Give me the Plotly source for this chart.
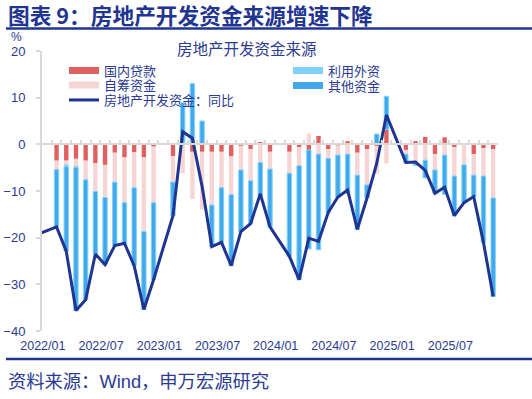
import plotly.graph_objects as go

# ---------------- data ----------------
# month labels: 2021/12 .. 2025/11 (January figures are not published separately)
months = ["2021/12"] + [f"{y}/{m:02d}" for y in range(2022, 2026) for m in range(1, 13)][:47]

# 房地产开发资金：同比 (%)
total_yoy = [-19.3,
             None, -17.7, -22.9, -35.6, -33.3, -23.5, -25.8, -21.7, -21.2, -26.0, -35.4, -29.0,
             None, -15.3, 2.7, 1.3, -9.0, -21.9, -21.0, -26.0, -18.7, -17.0, -10.6, -17.7,
             None, -24.0, -29.0, -20.1, -20.8, -14.6, -11.3, -9.8, -18.2, -11.5, -4.1, 6.3,
             None, -3.9, -3.8, -5.6, -10.5, -9.2, -15.3, -12.5, -11.2, -21.0, -32.6]

# contributions (pct points)
domestic_loans = [None,
                  None, -3.5, -3.5, -3.1, -3.5, -4.0, -4.4, -1.8, -2.8, -1.7, -2.8, -0.5,
                  None, -2.5, 0.3, -1.6, -1.6, -1.6, -1.6, -2.6, -0.3, -1.0, 0.5, -1.6,
                  None, -1.6, -0.6, -1.2, 1.8, -1.0, -0.2, 0.7, -1.8, -1.0, -0.3, 3.2,
                  None, -1.2, 0.7, 1.6, -2.1, 1.5, -0.6, -0.1, -2.1, -0.8, -1.0]

foreign_capital = [None,
                   None, -0.1, -0.5, -0.2, 0.0, 0.0, 0.0, 0.0, 0.0, 0.0, 0.0, 0.0,
                   None, 0.0, 0.0, 0.0, 0.0, 0.0, 0.0, 0.0, 0.0, 0.0, 0.0, 0.0,
                   None, 0.0, 0.0, 0.0, 0.0, 0.0, 0.0, 0.0, 0.0, 0.0, 0.0, 0.0,
                   None, 0.0, 0.0, 0.0, 0.0, 0.0, 0.0, 0.0, 0.0, 0.0, 0.0]

self_raised = [None,
               None, -1.85, -0.8, -1.7, -4.1, -6.1, -7.0, -6.3, -9.7, -7.6, -15.9, -12.0,
               None, -5.6, -6.2, -10.1, -12.4, -11.4, -7.7, -8.2, -5.2, -6.8, -3.9, -3.7,
               None, -4.6, -4.0, 2.3, -2.1, -2.0, -2.1, -2.1, -4.8, -7.7, -6.0, -4.1,
               None, -0.9, -4.2, -3.4, -3.4, -2.3, -6.2, -4.3, -4.5, -6.0, -10.5]

other_funds = [None,
               None, -12.25, -18.1, -30.6, -25.7, -13.4, -14.4, -13.6, -8.7, -16.7, -16.7, -16.5,
               None, -7.2, 8.6, 13.0, 5.0, -8.9, -11.7, -15.2, -13.2, -9.2, -7.2, -12.4,
               None, -17.8, -24.4, -21.2, -20.5, -11.6, -9.0, -8.4, -11.6, -2.8, 2.2, 7.1,
               None, -1.8, -0.3, -3.8, -5.0, -8.4, -8.5, -8.1, -4.6, -14.2, -21.1]

label_months = ["2022/01", "2022/07", "2023/01", "2023/07",
                "2024/01", "2024/07", "2025/01", "2025/07"]
y_ticks = [-40, -30, -20, -10, 0, 10, 20]

# ---------------- styling ----------------
W, H = 532, 399
L, R, T, B = 42, 34, 51, 68
PW, PH = W - L - R, H - T - B


def px(x):
    return (x - L) / PW


def py(y):
    return (H - B - y) / PH


NAVY = "#1F3591"
TXT = "#2B3A92"
RED = "#E0605F"
PINK = "#F7D5D5"
LBLUE = "#7FD3F9"
BLUE = "#42A8EC"
GRID = "#D9D9D9"
FONT = "Liberation Sans, Arial, Noto Sans CJK SC, sans-serif"

idx = list(range(len(months)))

fig = go.Figure()
fig.add_trace(go.Bar(x=idx, y=domestic_loans, name="国内贷款", marker_color=RED,
                     marker_line_width=0, showlegend=False))
fig.add_trace(go.Bar(x=idx, y=self_raised, name="自筹资金", marker_color=PINK,
                     marker_line_width=0, showlegend=False))
fig.add_trace(go.Bar(x=idx, y=foreign_capital, name="利用外资", marker_color=LBLUE,
                     marker_line_width=0, showlegend=False))
fig.add_trace(go.Bar(x=idx, y=other_funds, name="其他资金", marker_color=BLUE,
                     marker_line=dict(color=LBLUE, width=1), showlegend=False))
fig.add_trace(go.Scatter(x=idx, y=total_yoy, name="房地产开发资金：同比", mode="lines",
                         connectgaps=True, line=dict(color=NAVY, width=3),
                         legend="legend3"))

# legend entries (wide rectangular swatches like the original)
for name, color, lg in [("国内贷款", RED, "legend"), ("自筹资金", PINK, "legend2"),
                        ("利用外资", LBLUE, "legend4"), ("其他资金", BLUE, "legend5")]:
    fig.add_trace(go.Scatter(x=[None], y=[None], mode="lines", name=name,
                             line=dict(color=color, width=7), legend=lg))

# invisible trace so the zero-line axis is drawn
fig.add_trace(go.Scatter(x=[None], y=[None], xaxis="x2", showlegend=False,
                         hoverinfo="skip"))

tickvals = [months.index(m) for m in label_months]

leg_common = dict(bgcolor="rgba(0,0,0,0)", font=dict(size=13, color=TXT, family=FONT),
                  xanchor="left", yanchor="middle", itemwidth=30, borderwidth=0)

fig.update_layout(
    width=W, height=H,
    margin=dict(l=L, r=R, t=T, b=B, autoexpand=False),
    paper_bgcolor="white", plot_bgcolor="white",
    font=dict(family=FONT, color=TXT),
    barmode="relative", bargap=0.55,
    xaxis=dict(range=[0.5, len(months) - 0.5], tickvals=tickvals, ticktext=label_months,
               showline=False, ticks="", showgrid=False, zeroline=False,
               tickfont=dict(size=12.5, color=TXT), ticklabelshift=-4,
               ticklabelstandoff=5, automargin=False),
    xaxis2=dict(overlaying="x", anchor="free", position=40 / 60,
                range=[0.5, len(months) - 0.5], tick0=0.5, dtick=1,
                ticks="inside", ticklen=3, tickwidth=1.5, tickcolor=GRID,
                showline=True, linecolor=GRID, linewidth=2, automargin=False,
                showticklabels=False, showgrid=False, zeroline=False),
    yaxis=dict(range=[-40, 20], tickvals=y_ticks, showline=True, linecolor=GRID,
               linewidth=2, ticks="outside", ticklen=4, tickwidth=1.5, tickcolor=GRID,
               showgrid=False, zeroline=False, tickfont=dict(size=13, color=TXT),
               ticklabelstandoff=8, automargin=False),
    legend=dict(x=px(64), y=py(70.5), **leg_common),
    legend2=dict(x=px(64), y=py(85), **leg_common),
    legend3=dict(x=px(64), y=py(100), **leg_common),
    legend4=dict(x=px(288), y=py(70.5), **leg_common),
    legend5=dict(x=px(288), y=py(85.5), **leg_common),
    showlegend=True,
)

annotations = [
    dict(text="<b>图表 9：房地产开发资金来源增速下降</b>", x=px(6), y=py(14),
         xanchor="left", yanchor="middle", showarrow=False,
         font=dict(size=21.7, color=NAVY, family="Noto Sans CJK SC, sans-serif")),
    dict(text="房地产开发资金来源", x=px(247), y=py(49), xanchor="center", yanchor="middle",
         showarrow=False, font=dict(size=15.5, color=TXT, family=FONT)),
    dict(text="%", x=px(16), y=py(37), xanchor="center", yanchor="middle",
         showarrow=False, font=dict(size=12, color=TXT, family=FONT)),
    dict(text="资料来源：Wind，申万宏源研究", x=px(6), y=py(381), xanchor="left",
         yanchor="middle", showarrow=False, font=dict(size=18.3, color=TXT, family=FONT)),
]
for a in annotations:
    a.update(xref="paper", yref="paper")
fig.update_layout(annotations=annotations)

fig.add_shape(type="line", xref="paper", yref="paper", x0=px(6), x1=px(532),
              y0=py(28.5), y1=py(28.5), line=dict(color=NAVY, width=2.5))
fig.add_shape(type="line", xref="paper", yref="paper", x0=px(6), x1=px(532),
              y0=py(359), y1=py(359), line=dict(color=NAVY, width=2.5))

fig.write_html("out.html", config={"displayModeBar": False},
               post_script="document.body.style.margin='0px';")
